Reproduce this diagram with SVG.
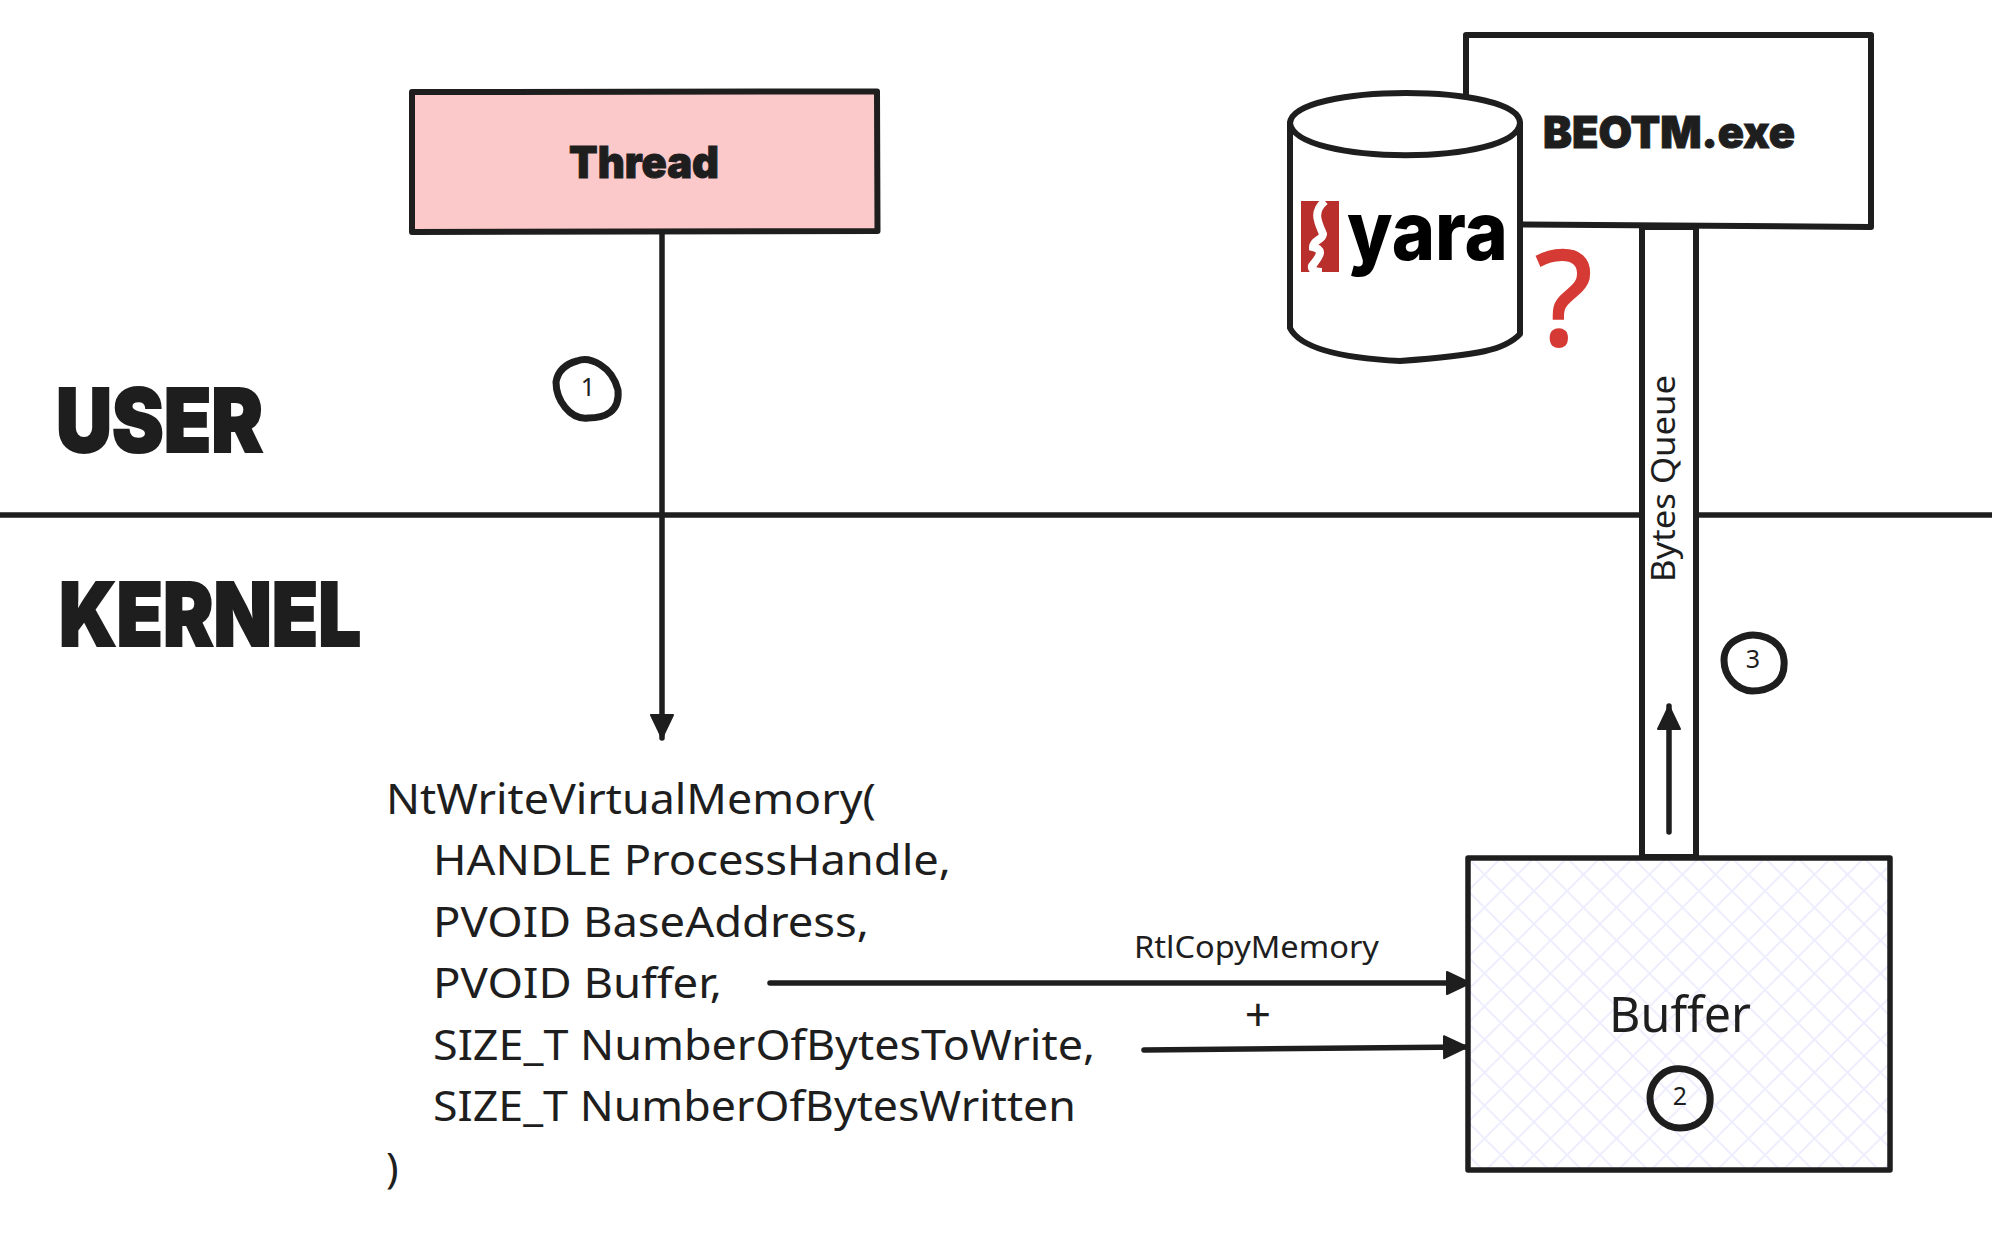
<svg xmlns="http://www.w3.org/2000/svg" width="1992" height="1238" viewBox="0 0 1992 1238">
<style>
.s{fill:none;stroke:#1e1e1e;stroke-width:5.500;stroke-linecap:round;stroke-linejoin:round}
.b{fill:#fff;stroke:#1e1e1e;stroke-width:6;stroke-linejoin:round}
.h{font-family:Inter,"Liberation Sans",sans-serif;font-weight:900;fill:#1e1e1e;stroke:#1e1e1e}
.t{font-family:"Noto Sans","Open Sans",sans-serif;fill:#1e1e1e}
.n{font-family:"Noto Sans",sans-serif;font-size:25px;fill:#1e1e1e;text-anchor:middle}
.c{fill:none;stroke:#1e1e1e;stroke-width:7;stroke-linejoin:round}
</style>
<defs>
<marker id="a" markerUnits="userSpaceOnUse" markerWidth="26" markerHeight="26" refX="24" refY="13" orient="auto"><path d="M1 2L24 13L1 24Z" fill="#1e1e1e" stroke="#1e1e1e" stroke-width="2" stroke-linejoin="round"/></marker>
<pattern id="hatch" width="66" height="66" patternUnits="userSpaceOnUse" patternTransform="translate(1468 858)"><path d="M-4 4L4 -4M-4 37L37 -4M-4 70L70 -4M29 70L70 29M62 70L70 62M-4 29L37 70M-4 62L4 70M-4 -4L70 70M29 -4L70 37M62 -4L70 4" fill="none" stroke="#eeeeff" stroke-width="2"/></pattern>
</defs>
<rect width="1992" height="1238" fill="#fff"/>
<g id="connectors">
<path class="s" d="M0 515H1992"/>
<path class="s" d="M662 232V738" marker-end="url(#a)"/>
<path class="s" d="M770 983H1470" marker-end="url(#a)"/>
<path class="s" d="M1144 1050L1467 1047" marker-end="url(#a)"/>
</g>
<g id="thread">
<path class="b" style="fill:#fbc9c9" d="M412 92L877 91.500L877.500 231L412 232Z"/>
<text class="h" x="644" y="178" font-size="44" text-anchor="middle" textLength="150" lengthAdjust="spacingAndGlyphs">Thread</text>
</g>
<g id="user-label"><text class="h" x="56" y="452" font-size="88" stroke-width="2" textLength="207" lengthAdjust="spacingAndGlyphs">USER</text></g>
<g id="kernel-label"><text class="h" x="59" y="646" font-size="88" stroke-width="2" textLength="302" lengthAdjust="spacingAndGlyphs">KERNEL</text></g>
<g id="beotm">
<path class="b" d="M1466 35L1871 35L1871 227L1466 224Z"/>
<text class="h" x="1669" y="148" font-size="44" text-anchor="middle" textLength="252" lengthAdjust="spacingAndGlyphs">BEOTM.exe</text>
</g>
<g id="queue">
<path class="b" d="M1642 227H1696V857H1642Z"/>
<text class="t" transform="translate(1675 582) rotate(-90)" font-size="32" textLength="207" lengthAdjust="spacingAndGlyphs">Bytes Queue</text>
<path class="s" d="M1669 832V706" marker-end="url(#a)"/>
</g>
<g id="yara">
<path class="b" d="M1290 123C1293 83 1520 83 1520 123V334C1505 350 1480 355 1400 361C1340 358 1300 348 1290 328Z"/>
<path class="s" style="fill:none;stroke-width:6" d="M1290 123C1295 166 1517 166 1520 123"/>
<rect x="1301" y="201" width="38" height="71" fill="#b92f2c"/>
<path d="M1325 201C1312 212 1318 222 1323 234C1323 240 1313 240 1313 247C1326 250 1318 258 1312 266C1311 270 1316 272 1322 272" fill="none" stroke="#fff" stroke-width="8"/>
<text x="1347" y="260" font-family="Inter,'DejaVu Sans',sans-serif" font-weight="800" font-size="82" fill="#000" textLength="161" lengthAdjust="spacingAndGlyphs">yara</text>
</g>
<g id="question"><text x="1564" y="345" font-family="'Noto Sans',sans-serif" font-size="132" fill="#d63a34" stroke="#d63a34" stroke-width="2" text-anchor="middle">?</text></g>
<g id="buffer">
<rect x="1468" y="858" width="422" height="312" fill="#fff"/>
<rect class="s" x="1468" y="858" width="422" height="312" style="fill:url(#hatch)"/>
<text class="t" x="1680" y="1032" font-size="50" text-anchor="middle" textLength="142" lengthAdjust="spacingAndGlyphs">Buffer</text>
</g>
<g id="call-text" class="t" font-size="42">
<text x="386" y="814" textLength="490" lengthAdjust="spacingAndGlyphs">NtWriteVirtualMemory(</text>
<text x="433" y="875" textLength="518" lengthAdjust="spacingAndGlyphs">HANDLE ProcessHandle,</text>
<text x="433" y="937" textLength="436" lengthAdjust="spacingAndGlyphs">PVOID BaseAddress,</text>
<text x="433" y="998" textLength="289" lengthAdjust="spacingAndGlyphs">PVOID Buffer,</text>
<text x="433" y="1060" textLength="662" lengthAdjust="spacingAndGlyphs">SIZE_T NumberOfBytesToWrite,</text>
<text x="433" y="1121" textLength="643" lengthAdjust="spacingAndGlyphs">SIZE_T NumberOfBytesWritten</text>
<text x="386" y="1183">)</text>
</g>
<g id="copy-label" class="t"><text x="1134" y="958" font-size="31" textLength="245" lengthAdjust="spacingAndGlyphs">RtlCopyMemory</text><text x="1258" y="1031" font-size="46" text-anchor="middle">+</text></g>
<g id="step1"><path class="c" d="M577 361C590 356 612 366 618 390C620 412 605 418 588 418C570 420 556 400 556 382C558 370 566 364 577 361Z"/><text class="n" x="588" y="396">1</text></g>
<g id="step2"><path class="c" d="M1665 1072C1680 1064 1706 1070 1710 1095C1712 1118 1696 1128 1680 1128C1662 1128 1650 1112 1650 1098C1650 1086 1656 1078 1665 1072Z"/><text class="n" x="1680" y="1105">2</text></g>
<g id="step3"><path class="c" d="M1740 638C1755 630 1782 638 1784 660C1786 684 1768 691 1752 691C1736 690 1724 676 1724 660C1724 650 1730 642 1740 638Z"/><text class="n" x="1753" y="668">3</text></g>
</svg>
